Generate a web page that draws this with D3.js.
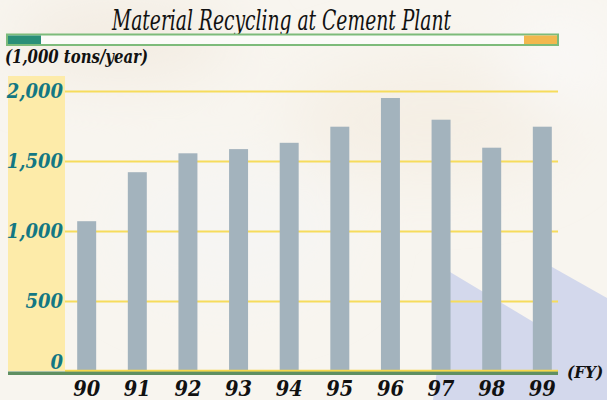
<!DOCTYPE html>
<html>
<head>
<meta charset="utf-8">
<script src="https://cdn.jsdelivr.net/npm/d3@7"></script>
<style>
  html, body { margin: 0; padding: 0; background: #f8f5ef; }
  svg { display: block; }
  text { font-stretch: condensed; }
</style>
</head>
<body>
<svg class="recyclingChart" width="607" height="400"></svg>
<script>
const years = ['90', '91', '92', '93', '94', '95', '96', '97', '98', '99'];
const tonnage = [1070, 1420, 1555, 1585, 1630, 1745, 1950, 1795, 1595, 1745];
const yTicks = [0, 500, 1000, 1500, 2000];

const data = years.map((y, i) => ({ year: y, value: tonnage[i] }));

const width = 607, height = 400;
const plotLeft = 65, plotRight = 558;
const plotTop = 91, plotBottom = 371;
const serif = "'DejaVu Serif', serif";

const svg = d3.select('.recyclingChart');

// soft background blotches
const defs = svg.append('defs');
const blur = defs.append('filter').attr('id', 'soft').attr('x', '-50%').attr('y', '-50%').attr('width', '200%').attr('height', '200%');
blur.append('feGaussianBlur').attr('stdDeviation', 30);

svg.append('rect').attr('width', width).attr('height', height).attr('fill', '#f8f5ef');
const blobs = svg.append('g').attr('filter', 'url(#soft)');
blobs.append('ellipse').attr('cx', 120).attr('cy', 40).attr('rx', 110).attr('ry', 40).attr('fill', '#f3ece2');
blobs.append('ellipse').attr('cx', 430).attr('cy', 120).attr('rx', 140).attr('ry', 60).attr('fill', '#f5efe5');
blobs.append('ellipse').attr('cx', 230).attr('cy', 230).attr('rx', 120).attr('ry', 70).attr('fill', '#f6f5f3');
blobs.append('ellipse').attr('cx', 560).attr('cy', 60).attr('rx', 60).attr('ry', 50).attr('fill', '#f9f8f6');

// lavender shapes in lower right
const lav = '#d3d8ec';
svg.append('polygon').attr('points', '450,272 545,329 545,400 433,400').attr('fill', lav);
svg.append('polygon').attr('points', '545,263 607,298 607,400 545,400').attr('fill', lav);

// title
svg.append('text')
  .attr('x', 112).attr('y', 30)
  .attr('textLength', 339).attr('lengthAdjust', 'spacingAndGlyphs')
  .attr('font-family', serif)
  .attr('font-style', 'italic')
  .attr('font-size', 27)
  .attr('fill', '#111')
  .text('Material Recycling at Cement Plant');

// title bar
svg.append('rect').attr('x', 7).attr('y', 34.5).attr('width', 551).attr('height', 10.5)
  .attr('fill', '#fbfbf8').attr('stroke', '#7dbb7a').attr('stroke-width', 2);
svg.append('rect').attr('x', 8).attr('y', 35.5).attr('width', 33).attr('height', 8.5).attr('fill', '#2a8f78');
svg.append('rect').attr('x', 524).attr('y', 35.5).attr('width', 33).attr('height', 8.5).attr('fill', '#f2b84e');

// unit label
svg.append('text')
  .attr('x', 5).attr('y', 63)
  .attr('textLength', 143).attr('lengthAdjust', 'spacingAndGlyphs')
  .attr('font-family', serif)
  .attr('font-style', 'italic').attr('font-weight', 'bold')
  .attr('font-size', 18)
  .attr('fill', '#111')
  .text('(1,000 tons/year)');

// yellow axis band
svg.append('rect').attr('x', 8).attr('y', 76).attr('width', plotLeft - 8).attr('height', plotBottom - 76)
  .attr('fill', '#fdeba9');

const x = d3.scaleBand()
  .domain(years)
  .range([62, 567])
  .paddingInner(0.625)
  .paddingOuter(0.3);

const y = d3.scaleLinear()
  .domain([0, 2000])
  .range([plotBottom, plotTop]);

// gridlines
svg.append('g')
  .attr('transform', 'translate(' + plotLeft + ',0)')
  .call(d3.axisLeft(y).tickValues(yTicks).tickSize(-(plotRight - plotLeft)).tickFormat(''))
  .call(g => g.select('.domain').remove())
  .selectAll('line')
    .attr('stroke', '#f6dc5c')
    .attr('stroke-width', 2);

// bars
svg.append('g')
  .selectAll('rect')
  .data(data)
  .enter().append('rect')
    .attr('x', d => x(d.year))
    .attr('y', d => y(d.value))
    .attr('width', x.bandwidth())
    .attr('height', d => y(0) - y(d.value) - 1)
    .attr('fill', '#a3b3bd');

// baseline
svg.append('rect').attr('x', 8).attr('y', plotBottom + 0.5).attr('width', plotRight - 8).attr('height', 3.5).attr('fill', '#5f8f62');
svg.append('line').attr('x1', plotLeft).attr('x2', plotRight).attr('y1', plotBottom - 0.5).attr('y2', plotBottom - 0.5)
  .attr('stroke', '#f6d84a').attr('stroke-width', 1.5);

// y labels
svg.append('g')
  .attr('transform', 'translate(63,0)')
  .call(d3.axisLeft(y).tickValues(yTicks).tickSize(0).tickPadding(0).tickFormat(d3.format(',')))
  .call(g => g.select('.domain').remove())
  .selectAll('text')
    .attr('font-family', serif)
    .attr('font-style', 'italic').attr('font-weight', 'bold')
    .attr('font-size', 20)
    .attr('fill', '#137783')
    .attr('dy', d => d === 0 ? '-0.12em' : '0.32em');

// x labels
svg.append('g')
  .attr('transform', 'translate(0,' + (plotBottom + 4) + ')')
  .call(d3.axisBottom(x).tickSize(0).tickPadding(6))
  .call(g => g.select('.domain').remove())
  .selectAll('text')
    .attr('font-family', serif)
    .attr('font-style', 'italic').attr('font-weight', 'bold')
    .attr('font-size', 21.5)
    .attr('fill', '#111');

svg.append('text')
  .attr('x', 567).attr('y', 378)
  .attr('font-family', serif)
  .attr('font-style', 'italic').attr('font-weight', 'bold')
  .attr('font-size', 17)
  .attr('fill', '#111')
  .text('(FY)');
</script>
</body>
</html>
